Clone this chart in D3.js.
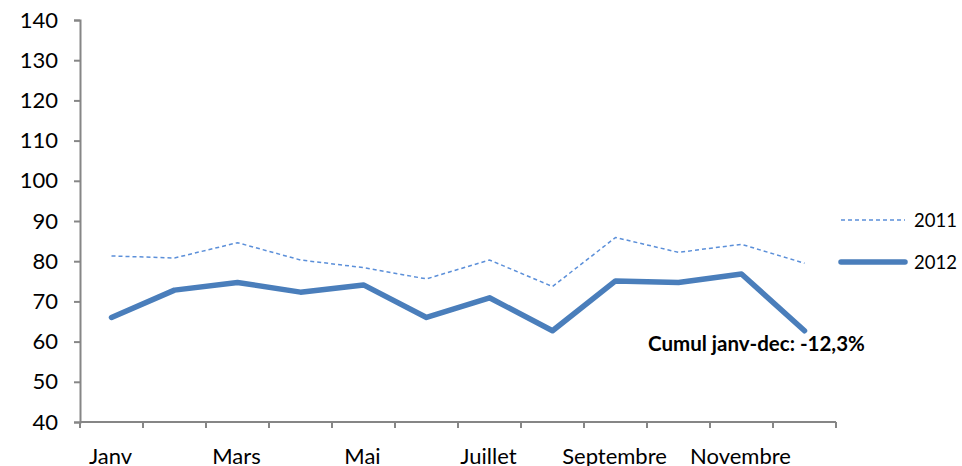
<!DOCTYPE html>
<html>
<head>
<meta charset="utf-8">
<script src="https://cdn.jsdelivr.net/npm/d3@7"></script>
<style>
  body { margin: 0; background: #fff; }
  svg { display: block; font-family: Lato, "Liberation Sans", sans-serif; }
</style>
</head>
<body>
<svg width="962" height="466"></svg>
<script>
const months = ["Janv", "Févr", "Mars", "Avr", "Mai", "Juin", "Juillet", "Août",
    "Septembre", "Octobre", "Novembre", "Décembre"];
const values2011 = [81.3, 80.8, 84.6, 80.3, 78.4, 75.6, 80.3, 73.7, 85.9, 82.2, 84.2, 79.5];
const values2012 = [66.0, 72.8, 74.7, 72.3, 74.1, 66.0, 70.9, 62.7, 75.1, 74.7, 76.8, 62.7];
const yTicks = [40, 50, 60, 70, 80, 90, 100, 110, 120, 130, 140];
const note = "Cumul janv-dec: -12,3%";

const svg = d3.select("svg");
const axisColor = "#868686";

const x = d3.scaleBand().domain(months).range([80, 836]);
const y = d3.scaleLinear().domain([40, 140]).range([422, 20]);

// y axis
const yAxis = svg.append("g")
    .attr("transform", "translate(80,0)")
    .call(d3.axisLeft(y).tickValues(yTicks).tickSize(6).tickPadding(16));
yAxis.select(".domain").attr("stroke", axisColor).attr("stroke-width", 2);
yAxis.selectAll(".tick line").attr("stroke", axisColor).attr("stroke-width", 2);
yAxis.selectAll(".tick text")
    .attr("font-size", 22).attr("fill", "#000").attr("font-family", "Lato");

// x axis, ticks on band edges
const xAxis = svg.append("g").attr("transform", "translate(0,422)");
xAxis.append("line")
    .attr("x1", 80).attr("x2", 836)
    .attr("stroke", axisColor).attr("stroke-width", 2);
const edges = months.map(m => x(m)).concat([x.range()[1]]);
xAxis.selectAll(".xt")
    .data(edges)
    .enter().append("line")
    .attr("x1", d => d).attr("x2", d => d)
    .attr("y1", 0).attr("y2", 6)
    .attr("stroke", axisColor).attr("stroke-width", 2);
xAxis.selectAll(".xl")
    .data(months.filter((m, i) => i % 2 === 0))
    .enter().append("text")
    .attr("x", d => x(d) + x.bandwidth() / 2 - 1)
    .attr("y", 42)
    .attr("text-anchor", "middle")
    .attr("font-size", 22)
    .attr("fill", "#000")
    .text(d => d);

const line = d3.line()
    .x((d, i) => x(months[i]) + x.bandwidth() / 2)
    .y(d => y(d));

svg.append("path")
    .datum(values2011)
    .attr("d", line)
    .attr("fill", "none")
    .attr("stroke", "#5b8fd9")
    .attr("stroke-width", 1.5)
    .attr("stroke-dasharray", "4,3");

svg.append("path")
    .datum(values2012)
    .attr("d", line)
    .attr("fill", "none")
    .attr("stroke", "#4a7ebb")
    .attr("stroke-width", 5.5)
    .attr("stroke-linecap", "round")
    .attr("stroke-linejoin", "round");

// annotation
svg.append("text")
    .attr("x", 648).attr("y", 351)
    .attr("font-size", 20.5)
    .attr("font-weight", "bold")
    .attr("fill", "#000")
    .text(note);

// legend
const legend = [
    { name: "2011", y: 220, color: "#5b8fd9", width: 1.5, dash: "4,3" },
    { name: "2012", y: 262, color: "#4a7ebb", width: 5.5, dash: null }
];
const lg = svg.selectAll(".legend")
    .data(legend)
    .enter().append("g");
lg.append("line")
    .attr("x1", 841).attr("x2", 905)
    .attr("y1", d => d.y).attr("y2", d => d.y)
    .attr("stroke", d => d.color)
    .attr("stroke-width", d => d.width)
    .attr("stroke-dasharray", d => d.dash)
    .attr("stroke-linecap", d => d.dash ? "butt" : "round");
lg.append("text")
    .attr("x", 914).attr("y", d => d.y + 7)
    .attr("font-size", 18.5)
    .attr("fill", "#000")
    .text(d => d.name);
</script>
</body>
</html>
